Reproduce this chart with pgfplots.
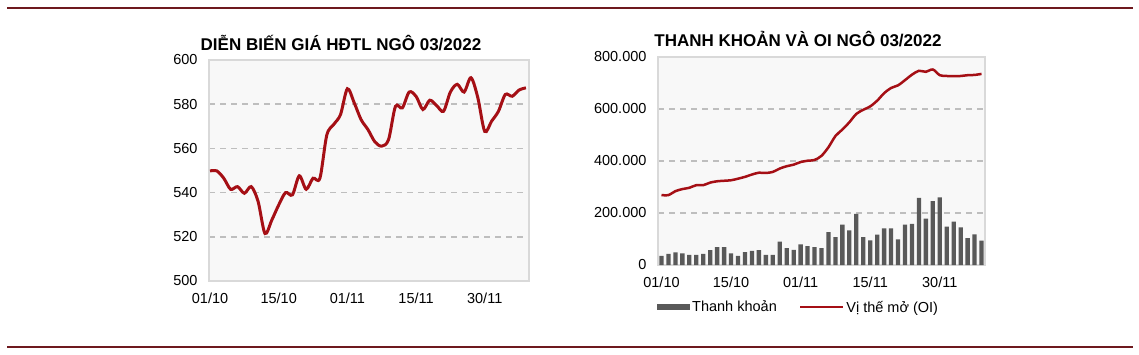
\documentclass[border=0pt]{standalone}
\usepackage{pgfplots}
\usepackage{pgfplotstable}
\pgfplotsset{compat=1.18}
\usepackage{fontspec}
\setmainfont{Liberation Sans}
\definecolor{lred}{RGB}{165,15,21}
\definecolor{rulec}{RGB}{110,25,30}
\definecolor{bgc}{RGB}{248,248,248}
\definecolor{borderc}{RGB}{217,217,217}
\definecolor{gridc}{RGB}{190,190,190}
\definecolor{barc}{RGB}{89,89,89}
\pgfplotstableread{
price
549.8
549.8
546.5
541.5
542.7
539.7
542.7
536
521.5
527.6
534.4
540
539
547.6
541.5
546.5
546.5
566
570.8
575.3
587
580.6
573
568.5
563
561
564
579
578.3
585.5
583.6
577.6
581.8
579.4
576.8
585.5
589
585.5
592
582.9
567.7
572.3
576.8
584.4
583.6
586.4
587.4
}\pricetab
\pgfplotstableread{
vol oi
35000 269000
43000 269000
49000 284000
45000 292000
39000 297000
39000 307000
43000 307000
57000 317000
69000 322000
69000 324000
45000 326000
35000 332000
50000 339000
54000 348000
57000 355000
39000 354000
39000 358000
90000 371000
65000 380000
58000 386000
79000 396000
73000 401000
69000 404000
65000 420000
126000 453000
107000 496000
155000 521000
133000 549000
197000 581000
107000 597000
95000 610000
117000 632000
141000 661000
141000 681000
99000 691000
155000 711000
158000 732000
258000 747000
178000 743000
246000 752000
260000 730000
148000 727000
167000 726000
145000 727000
103000 730000
118000 731000
94000 735000
}\voltab
\pgfplotsset{
  common/.style={
    scale only axis,
    anchor=south west,
    axis background/.style={fill=bgc},
    axis line style={draw=borderc, line width=1.6pt},
    major tick length=0pt,
    ymajorgrids,
    grid style={draw=gridc, line width=1.5pt, dash pattern=on 6pt off 5pt},
    tick label style={font=\fontsize{14.5}{16}\selectfont},
    xtick={0,10,20,30,40},
    xticklabels={01/10,15/10,01/11,15/11,30/11},
    xticklabel style={yshift=-8.5pt},
    yticklabel style={xshift=-8pt},
    title style={font=\bfseries\fontsize{17}{19}\selectfont, anchor=base},
    clip=false,
  }
}
\begin{document}
\begin{tikzpicture}[x=1pt,y=1pt]
\path[use as bounding box] (0pt,0pt) rectangle (1139pt,354pt);
\draw[rulec, line width=1.3pt] (7pt,346pt) -- (1133pt,346pt);
\draw[rulec, line width=1.3pt] (7pt,7pt) -- (1133pt,7pt);
\begin{axis}[common,
  at={(209pt,73pt)}, width=320pt, height=221pt,
  xmin=-0.15, xmax=46.45, ymin=500, ymax=600,
  ytick={500,520,540,560,580,600},
  yticklabels={500,520,540,560,580,600},
  title={DIỄN BIẾN GIÁ HĐTL NGÔ 03/2022},
  title style={at={(0.4125,1)}, yshift=4pt},
]
\addplot[lred, line width=3pt, smooth, tension=0.5] table[x expr=\coordindex, y=price] {\pricetab};
\end{axis}
\begin{axis}[common,
  at={(658pt,89pt)}, width=327pt, height=208pt,
  xmin=-0.5, xmax=46.5, ymin=0, ymax=800000,
  ytick={0,200000,400000,600000,800000},
  yticklabels={0,200.000,400.000,600.000,800.000},
  scaled y ticks=false,
  title={THANH KHOẢN VÀ OI NGÔ 03/2022},
  title style={at={(0.428,1)}, yshift=5pt},
  legend columns=2,
  legend style={at={(0.43,-0.203)}, anchor=center, draw=none, fill=none,
    font=\fontsize{14.5}{16}\selectfont,
    /tikz/every even column/.append style={column sep=20pt},
    nodes={inner sep=2pt}},
]
\addplot[ybar, bar width=4.3pt, bar shift=0pt, fill=barc, draw=none,
  legend image code/.code={\fill[barc] (0pt,-3pt) rectangle (33pt,3pt);}]
  table[x expr=\coordindex, y=vol] {\voltab};
\addlegendentry{Thanh khoản}
\addplot[lred, line width=2.5pt, smooth, tension=0.5,
  legend image code/.code={\draw[lred, line width=2.5pt] (0pt,0pt) -- (43pt,0pt);}]
  table[x expr=\coordindex, y=oi] {\voltab};
\addlegendentry{Vị thế mở (OI)}
\end{axis}
\end{tikzpicture}
\end{document}
